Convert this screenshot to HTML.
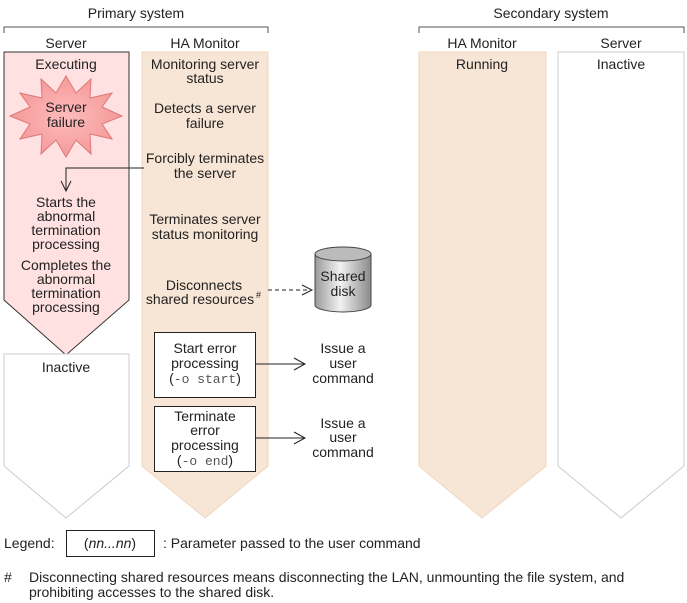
<!DOCTYPE html>
<html><head><meta charset="utf-8"><style>
html,body{margin:0;padding:0;background:#fff}
svg{display:block}
text{font-family:"Liberation Sans",sans-serif;font-size:14px;fill:#222}
.m{font-family:"Liberation Mono",monospace;fill:#555;font-size:13px}
</style></head><body>
<svg width="687" height="603" viewBox="0 0 687 603" xmlns="http://www.w3.org/2000/svg">
<defs>
<linearGradient id="cyl" x1="0" x2="1" y1="0" y2="0">
<stop offset="0" stop-color="#9a9a9a"/><stop offset="0.45" stop-color="#f2f2f2"/><stop offset="1" stop-color="#8a8a8a"/>
</linearGradient>
<radialGradient id="burst" cx="0.5" cy="0.5" r="0.5"><stop offset="0" stop-color="#fbb"/><stop offset="1" stop-color="#f49a9a"/></radialGradient>
</defs>
<text x="136" y="18" text-anchor="middle">Primary system</text>
<path d="M4 33 V27 H268 V33" fill="none" stroke="#555"/>
<text x="551" y="18" text-anchor="middle">Secondary system</text>
<path d="M419 33 V27 H684 V33" fill="none" stroke="#555"/>
<text x="66" y="48" text-anchor="middle">Server</text>
<text x="205" y="48" text-anchor="middle">HA Monitor</text>
<text x="482" y="48" text-anchor="middle">HA Monitor</text>
<text x="621" y="48" text-anchor="middle">Server</text>
<polygon points="4,52 129,52 129,300 66,355 4,300" fill="#ffe1e1" stroke="#333"/>
<polygon points="4,354 129,354 129,466 66,518 4,466" fill="#fff" stroke="#ccc"/>
<polygon points="142,52 268,52 268,466 205,518 142,466" fill="#f7e5d5" stroke="#f0d6bf"/>
<polygon points="419,52 546,52 546,466 482,518 419,466" fill="#f7e5d5" stroke="#f0d6bf"/>
<polygon points="558,52 684,52 684,466 621,518 558,466" fill="#fff" stroke="#ccc"/>
<polygon fill="url(#burst)" stroke="#d77" points="
66,76 76,93 91,79 90,98 112,93 102,107 122,116 102,124 112,139 90,134 91,154 76,140 66,157 56,140 41,154 42,134 20,139 30,124 10,116 30,107 20,93 42,98 41,79 56,93"/>
<text x="66" y="112" text-anchor="middle">Server</text>
<text x="66" y="127" text-anchor="middle">failure</text>
<text x="66" y="69" text-anchor="middle">Executing</text>
<text x="66" y="207" text-anchor="middle">Starts the</text>
<text x="66" y="221" text-anchor="middle">abnormal</text>
<text x="66" y="235" text-anchor="middle">termination</text>
<text x="66" y="249" text-anchor="middle">processing</text>
<text x="66" y="270" text-anchor="middle">Completes the</text>
<text x="66" y="284" text-anchor="middle">abnormal</text>
<text x="66" y="298" text-anchor="middle">termination</text>
<text x="66" y="312" text-anchor="middle">processing</text>
<text x="66" y="372" text-anchor="middle">Inactive</text>
<text x="205" y="69" text-anchor="middle">Monitoring server</text>
<text x="205" y="83" text-anchor="middle">status</text>
<text x="205" y="113" text-anchor="middle">Detects a server</text>
<text x="205" y="128" text-anchor="middle">failure</text>
<text x="205" y="163" text-anchor="middle">Forcibly terminates</text>
<text x="205" y="178" text-anchor="middle">the server</text>
<text x="205" y="224" text-anchor="middle">Terminates server</text>
<text x="205" y="239" text-anchor="middle">status monitoring</text>
<text x="204" y="290" text-anchor="middle">Disconnects</text>
<text x="200" y="304" text-anchor="middle">shared resources</text>
<text x="256" y="298" style="font-size:9px">#</text>
<text x="482" y="69" text-anchor="middle">Running</text>
<text x="621" y="69" text-anchor="middle">Inactive</text>
<path d="M144 168 H66 V191" fill="none" stroke="#222"/>
<path d="M61 181 L66 191 L71 181" fill="none" stroke="#222"/>
<path d="M268 290 H310" stroke="#222" stroke-dasharray="4,3"/>
<path d="M302 285 L312 290 L302 295" fill="none" stroke="#222"/>
<path d="M315 254 V305 A28 7 0 0 0 371 305 V254" fill="url(#cyl)" stroke="#444"/>
<ellipse cx="343" cy="254" rx="28" ry="7" fill="#bbb" stroke="#444"/>
<text x="343" y="281" text-anchor="middle">Shared</text>
<text x="343" y="296" text-anchor="middle">disk</text>
<rect x="154.5" y="332.5" width="101" height="65" fill="#fff" stroke="#222"/>
<text x="205" y="353" text-anchor="middle">Start error</text>
<text x="205" y="368" text-anchor="middle">processing</text>
<text x="205" y="383" text-anchor="middle"><tspan>(</tspan><tspan class="m">-o start</tspan><tspan>)</tspan></text>
<rect x="154.5" y="406.5" width="101" height="65" fill="#fff" stroke="#222"/>
<text x="205" y="421" text-anchor="middle">Terminate</text>
<text x="205" y="435" text-anchor="middle">error</text>
<text x="205" y="450" text-anchor="middle">processing</text>
<text x="205" y="465" text-anchor="middle"><tspan>(</tspan><tspan class="m">-o end</tspan><tspan>)</tspan></text>
<path d="M256 364 H304" stroke="#222"/><path d="M294 358 L305 364 L294 370" fill="none" stroke="#222"/>
<path d="M256 438 H304" stroke="#222"/><path d="M294 432 L305 438 L294 444" fill="none" stroke="#222"/>
<text x="343" y="353" text-anchor="middle">Issue a</text>
<text x="343" y="368" text-anchor="middle">user</text>
<text x="343" y="383" text-anchor="middle">command</text>
<text x="343" y="428" text-anchor="middle">Issue a</text>
<text x="343" y="442" text-anchor="middle">user</text>
<text x="343" y="457" text-anchor="middle">command</text>
<text x="4" y="548">Legend:</text>
<rect x="66.5" y="530.5" width="88" height="26" fill="#fff" stroke="#222"/>
<text x="110" y="548" text-anchor="middle">(<tspan font-style="italic">nn...nn</tspan>)</text>
<text x="163" y="548">: Parameter passed to the user command</text>
<text x="4" y="582">#</text>
<text x="29" y="582">Disconnecting shared resources means disconnecting the LAN, unmounting the file system, and</text>
<text x="29" y="597">prohibiting accesses to the shared disk.</text>
</svg>
</body></html>
